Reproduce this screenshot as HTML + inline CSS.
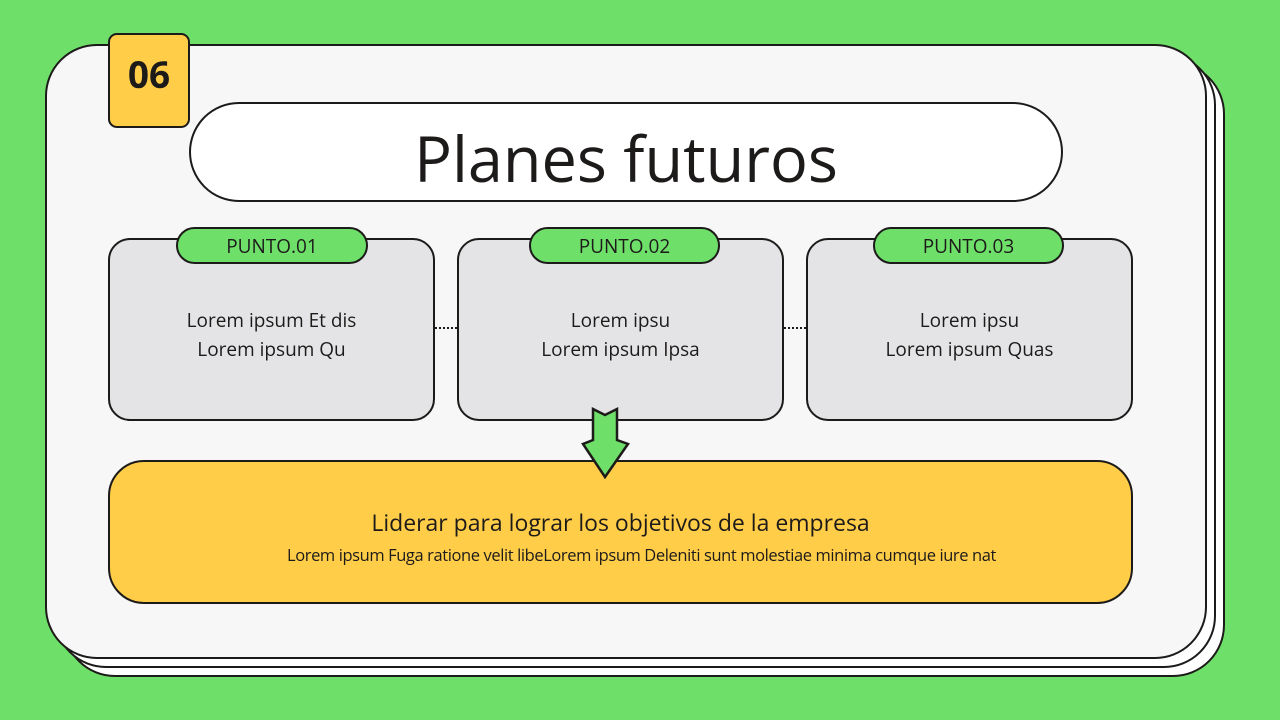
<!DOCTYPE html>
<html><head><meta charset="utf-8"><style>
body{margin:0;width:1280px;height:720px;background:#6ee06a;position:relative;overflow:hidden;font-family:"Open Sans","Liberation Sans",sans-serif;color:#1d1a1a}
.a{position:absolute;box-sizing:border-box;border:2px solid #1d1a1a}
.c{display:flex;align-items:center;justify-content:center;text-align:center}
</style></head><body>
<div class="a" style="left:63px;top:62px;width:1162px;height:615px;border-radius:52px;background:#fff"></div>
<div class="a" style="left:54px;top:53px;width:1162px;height:615px;border-radius:52px;background:#fff"></div>
<div class="a" style="left:45px;top:44px;width:1162px;height:615px;border-radius:52px;background:#f7f7f8"></div>
<div class="a c" style="left:108px;top:33px;width:82px;height:95px;border-radius:9px;background:#ffcd48;font-weight:bold;font-size:37px;padding-bottom:14px">06</div>
<div class="a c" style="left:189px;top:102px;width:874px;height:100px;border-radius:50px;background:#fff;font-size:63px;padding-top:12px">Planes futuros</div>

<div class="a c" style="left:108px;top:238px;width:327px;height:183px;border-radius:22px;background:#e4e4e6;font-size:19px;line-height:29px;padding-top:10px">Lorem ipsum Et dis<br>Lorem ipsum Qu</div>
<div class="a c" style="left:457px;top:238px;width:327px;height:183px;border-radius:22px;background:#e4e4e6;font-size:19px;line-height:29px;padding-top:10px">Lorem ipsu<br>Lorem ipsum Ipsa</div>
<div class="a c" style="left:806px;top:238px;width:327px;height:183px;border-radius:22px;background:#e4e4e6;font-size:19px;line-height:29px;padding-top:10px">Lorem ipsu<br>Lorem ipsum Quas</div>
<div style="position:absolute;left:435px;top:327px;width:22px;border-top:2px dotted #1d1a1a"></div>
<div style="position:absolute;left:784px;top:327px;width:22px;border-top:2px dotted #1d1a1a"></div>

<div class="a c" style="left:176px;top:227px;width:192px;height:37px;border-radius:19px;background:#6ee06a;font-size:19px">PUNTO.01</div>
<div class="a c" style="left:529px;top:227px;width:191px;height:37px;border-radius:19px;background:#6ee06a;font-size:19px">PUNTO.02</div>
<div class="a c" style="left:873px;top:227px;width:191px;height:37px;border-radius:19px;background:#6ee06a;font-size:19px">PUNTO.03</div>

<div class="a" style="left:108px;top:460px;width:1025px;height:144px;border-radius:36px;background:#ffcd48"></div>
<div style="position:absolute;left:108px;top:506px;width:1025px;text-align:center;font-size:23px">Liderar para lograr los objetivos de la empresa</div>
<div style="position:absolute;left:149px;top:543px;width:985px;text-align:center;font-size:16.5px;letter-spacing:-0.4px">Lorem ipsum Fuga ratione velit libeLorem ipsum Deleniti sunt molestiae minima cumque iure nat</div>

<svg style="position:absolute;left:0;top:0" width="1280" height="720"><polygon points="593,409 605,415 617,409 617,440 628,444 605,477 583,444 593,440" fill="#6ee06a" stroke="#1d1a1a" stroke-width="2.5" stroke-linejoin="miter"/></svg>
</body></html>
